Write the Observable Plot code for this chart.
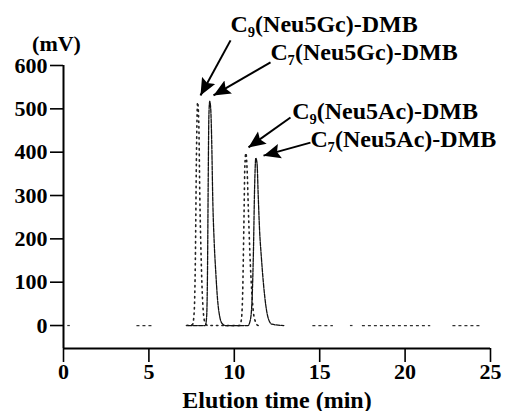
<!DOCTYPE html>
<html>
<head>
<meta charset="utf-8">
<script src="https://cdn.jsdelivr.net/npm/d3@7"></script>
<script src="https://cdn.jsdelivr.net/npm/@observablehq/plot@0.6"></script>
<style>
  html, body { margin: 0; padding: 0; background: #fff; }
</style>
</head>
<body>
<div id="chart"></div>
<script>
// C9 trace (dotted): elution time (min) and signal (mV)
const c9Time = [7.20, 7.55, 7.65, 7.72, 7.78, 7.85, 7.92, 7.98, 8.05, 8.12, 8.20, 8.30, 8.45,
                10.30, 10.40, 10.48, 10.56, 10.62, 10.68, 10.75, 10.83, 10.92, 11.02, 11.12, 11.25, 11.40, 11.60];
const c9Signal = [0, 2, 30, 150, 380, 515, 470, 300, 170, 80, 25, 5, 0,
                  0, 10, 60, 230, 370, 398, 360, 260, 160, 80, 30, 8, 0, 0];

// C7 trace (dense dashes)
const c7Time = [7.30, 8.30, 8.38, 8.43, 8.47, 8.51, 8.56, 8.62, 8.68, 8.74, 8.82, 8.92, 9.02, 9.15, 9.30, 9.50,
                10.80, 10.95, 11.05, 11.12, 11.19, 11.26, 11.33, 11.40, 11.48, 11.58, 11.70, 11.85, 12.00, 12.20, 12.90];
const c7Signal = [0, 0, 20, 120, 320, 480, 518, 500, 420, 290, 195, 120, 60, 20, 4, 0,
                  0, 15, 70, 170, 320, 386, 375, 300, 220, 160, 100, 45, 15, 3, 0];

// faint baseline fragments (start, end in min)
const baseStart = [0.25, 4.3, 9.5, 14.6, 16.8, 17.5, 22.8];
const baseEnd   = [0.40, 5.2, 10.4, 15.8, 16.95, 21.5, 24.4];

// peak annotations
const labelText = ["C₉(Neu5Gc)-DMB", "C₇(Neu5Gc)-DMB", "C₉(Neu5Ac)-DMB", "C₇(Neu5Ac)-DMB"];
const labelX = [9.78, 12.12, 13.39, 14.46];
const labelY = [677, 612, 477, 411];
const arrowX1 = [9.78, 12.12, 13.29, 14.46];
const arrowY1 = [658, 607, 480, 422];
const arrowX2 = [8.02, 8.78, 10.83, 11.71];
const arrowY2 = [531, 531, 411, 392];

const xTicks = [0, 5, 10, 15, 20, 25];
const yTicks = [0, 100, 200, 300, 400, 500, 600];

const c9 = c9Time.map((t, i) => ({t, v: c9Signal[i]}));
const c7 = c7Time.map((t, i) => ({t, v: c7Signal[i]}));
const base = baseStart.map((s, i) => ({s, e: baseEnd[i]}));
const labels = labelText.map((text, i) => ({text, x: labelX[i], y: labelY[i]}));
const arrows = arrowX1.map((x1, i) => ({x1, y1: arrowY1[i], x2: arrowX2[i], y2: arrowY2[i]}));

const FONT = "'Liberation Serif', 'Times New Roman', serif";

const arrowHead = (color, context) => {
  const ns = "http://www.w3.org/2000/svg";
  const doc = (context && context.document) || document;
  const m = doc.createElementNS(ns, "marker");
  m.setAttribute("viewBox", "-17 -8 17 16");
  m.setAttribute("markerWidth", 17);
  m.setAttribute("markerHeight", 16);
  m.setAttribute("markerUnits", "userSpaceOnUse");
  m.setAttribute("orient", "auto");
  m.setAttribute("refX", 0);
  m.setAttribute("refY", 0);
  const p = doc.createElementNS(ns, "path");
  p.setAttribute("d", "M0,0L-17,-7.5L-14,0L-17,7.5Z");
  p.setAttribute("fill", "#000");
  p.setAttribute("stroke", "none");
  m.appendChild(p);
  return m;
};

const txt = {fontFamily: FONT, fontWeight: "bold", fill: "#000"};

const chart = Plot.plot({
  width: 508,
  height: 411,
  marginLeft: 63,
  marginRight: 18,
  marginTop: 65,
  marginBottom: 63,
  style: {fontFamily: FONT, fontWeight: "bold", fontSize: "22px", color: "#000", background: "#fff"},
  x: {domain: [0, 25]},
  y: {domain: [-53, 600]},
  marks: [
    Plot.axisY({ticks: yTicks, tickSize: 13, tickFormat: () => "", label: null, strokeWidth: 1.6}),
    Plot.axisX({ticks: xTicks, tickSize: 14, tickFormat: () => "", label: null, strokeWidth: 1.6}),
    Plot.text(yTicks, {y: d => d, frameAnchor: "left", textAnchor: "end", lineAnchor: "middle", dx: -16, text: d => String(d), fontSize: 22, ...txt}),
    Plot.text(xTicks, {x: d => d, frameAnchor: "bottom", textAnchor: "middle", lineAnchor: "top", dy: 15, text: d => String(d), fontSize: 22, ...txt}),
    Plot.ruleX([0], {y1: -53, y2: 600, stroke: "#000", strokeWidth: 2}),
    Plot.ruleY([-53], {x1: 0, x2: 25, stroke: "#000", strokeWidth: 2}),
    Plot.ruleY(base, {x1: "s", x2: "e", y: 0, stroke: "#333", strokeWidth: 1.2, strokeDasharray: "3,3"}),
    Plot.line(c9, {x: "t", y: "v", curve: "monotone-x", stroke: "#222", strokeWidth: 1.6, strokeDasharray: "1.5,4"}),
    Plot.line(c7, {x: "t", y: "v", curve: "monotone-x", stroke: "#111", strokeWidth: 1.3, strokeDasharray: "4,1.2"}),
    Plot.link(arrows, {x1: "x1", y1: "y1", x2: "x2", y2: "y2", stroke: "#000", strokeWidth: 2, markerEnd: arrowHead}),
    Plot.text(labels, {x: "x", y: "y", text: "text", textAnchor: "start", lineAnchor: "bottom", fontSize: 24, ...txt}),
    Plot.text(["(mV)"], {frameAnchor: "top-left", textAnchor: "middle", lineAnchor: "middle", dx: -7, dy: -22, text: d => d, fontSize: 22, ...txt}),
    Plot.text(["Elution time (min)"], {frameAnchor: "bottom", lineAnchor: "bottom", dy: 59, text: d => d, fontSize: 24, ...txt})
  ]
});
document.getElementById("chart").appendChild(chart);
</script>
</body>
</html>
